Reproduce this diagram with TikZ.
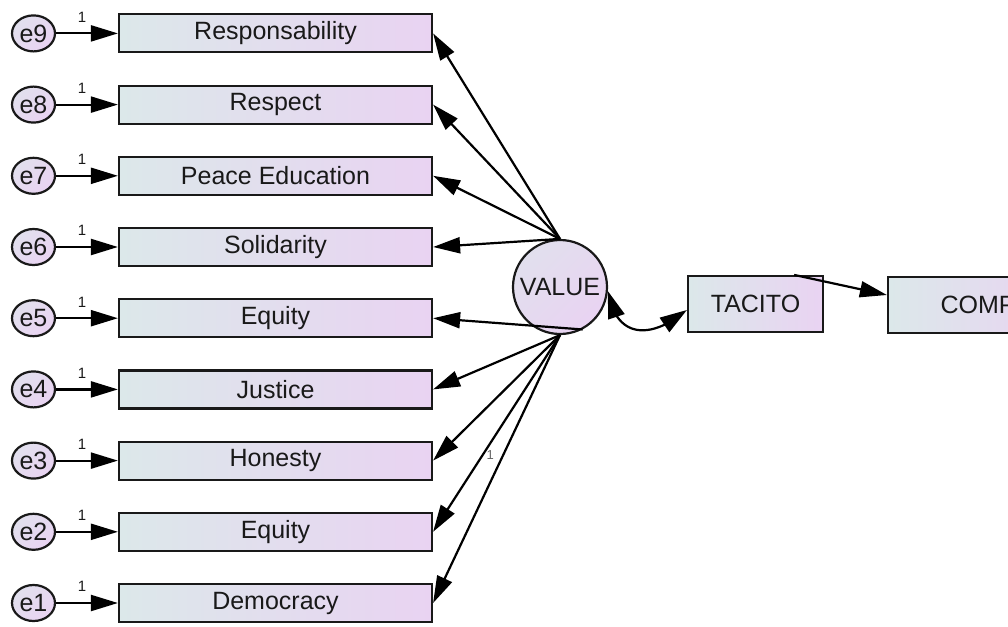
\documentclass[tikz,border=0pt]{standalone}
\usepackage{fontspec}
\setmainfont{Liberation Sans}
\usetikzlibrary{arrows.meta, bending, calc, shapes.geometric}
\definecolor{boxleft}{HTML}{DCE8EA}
\definecolor{boxright}{HTML}{E9D3F2}
\tikzset{
	sem/.style={x=1pt,y=-1pt,font=\fontsize{25}{29}\selectfont},
	obs/.style={
		rectangle, draw=black!90, line width=2.2pt,
		minimum width=313pt, minimum height=38pt, inner sep=0pt,
		left color=boxleft, right color=boxright,
		text=black!90
	},
	err/.style={
		ellipse, draw=black!90, line width=2.2pt,
		minimum width=43pt, minimum height=36pt, inner sep=0pt,
		left color=boxleft!60!boxright, right color=boxright, shading angle=45,
		text=black!90
	},
	lat/.style={err, circle, minimum size=94pt},
	regr/.style={-{Triangle[length=27pt,width=16pt]}, line width=2.2pt},
	cov/.style={{Triangle[flex,length=27pt,width=17pt]}-{Triangle[flex,length=27pt,width=17pt]}, line width=2.2pt},
	fix/.style={font=\fontsize{15}{17}\selectfont, inner sep=0pt, text=black!90}
}
\begin{document}
\begin{tikzpicture}[sem]
	\useasboundingbox (0,0) rectangle (1008,626);
	\clip (0,0) rectangle (1008,626);
	% latent variable
	\node[lat] (VALUE) at (560,287) {VALUE};
	% indicators with their errors
	\foreach \i/\lbl in {9/Responsability,8/Respect,7/Peace Education,6/Solidarity,5/Equity,4/Justice,3/Honesty,2/Equity,1/Democracy}
	{
		\pgfmathsetmacro{\yy}{603-71.2*(\i-1)}
		\node[obs] (v\i) at (275.5,\yy) {\lbl};
		\node[err] (e\i) at (33.5,\yy) {e\i};
		\draw[regr] (e\i) -- (v\i) node[fix,pos=0.42,above=10pt] {1};
	}
	% loadings
	\foreach \i in {9,8,7,6}
		\draw[regr] (VALUE.north) -- (v\i.east);
	\draw[regr] (VALUE.-62) -- (v5.east);
	\foreach \i in {4,3,1}
		\draw[regr] (VALUE.south) -- (v\i.east);
	\draw[regr] (VALUE.south) -- (v2.east) node[fix,pos=0.61,right=3pt,font=\fontsize{13}{15}\selectfont,text=black!60] {1};
	% structural part
	\node[obs, minimum width=135pt, minimum height=56pt] (TACITO) at (755.5,304) {TACITO};
	\node[obs, minimum width=180pt, minimum height=56pt] (COMP) at (978,305) {COMP};
	\draw[cov] (VALUE.-5) .. controls +(8,48) and +(-36,30) .. ([yshift=-6pt]TACITO.west);
	\draw[regr] ([xshift=-30pt]TACITO.north east) -- ([yshift=10pt]COMP.west);
\end{tikzpicture}
\end{document}
